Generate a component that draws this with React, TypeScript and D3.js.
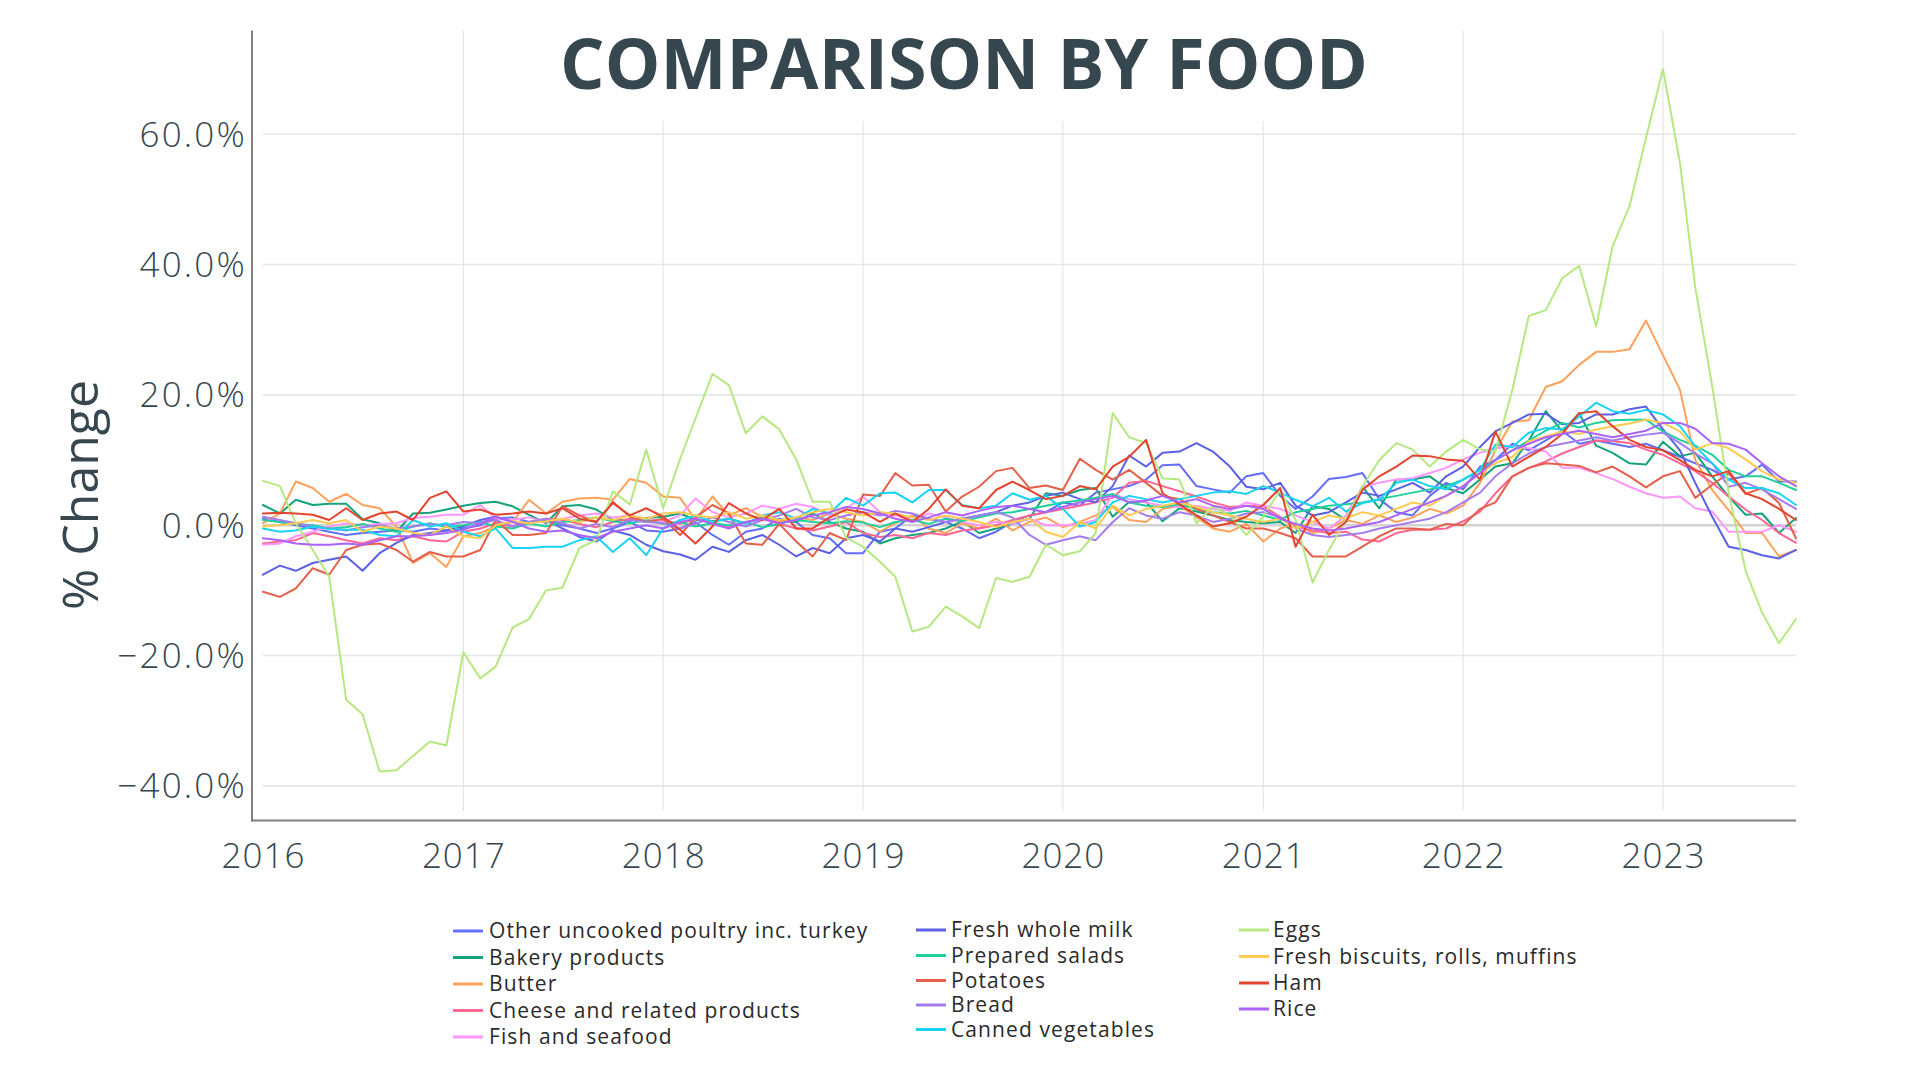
import React from 'react';
import * as d3 from 'd3';

// ---------- DATA ----------
const MONTHS: Date[] = d3.utcMonth.range(new Date(Date.UTC(2016, 0, 1)), new Date(Date.UTC(2023, 9, 1)));

const otherPoultry = [
  1.0, 0.5, 0.0, -0.5, -1.0, -1.5, -1.2, -1.0, -0.8, -1.0, -0.5, -0.8,
  -0.5, 0.0, 1.0, 1.2, 0.5, 0.8, 0.0, -0.5, -1.2, -0.5, 0.5, -0.8,
  -1.0, -0.5, 0.5, -1.5, -3.0, -1.0, -0.5, 1.0, 0.5, -1.5, -2.0, -4.3,
  -4.3, -1.0, -0.5, 1.5, 1.0, 0.5, -0.5, -2.0, -1.0, 0.5, 1.5, 2.0,
  3.5, 3.0, 5.0, 5.5, 6.0, 7.0, 9.2, 9.3, 6.0, 5.5, 5.0, 7.5,
  8.0, 4.5, 2.5, 4.4, 7.1, 7.4, 8.0, 4.0, 2.0, 1.5, 4.5, 6.5,
  5.5, 9.0, 10.0, 12.5, 11.5, 13.0, 14.5, 12.5, 13.0, 12.5, 12.0, 12.5,
  11.5, 10.5, 9.5, 8.5, 7.0, 7.5, 9.3, 6.7, 6.7,
];
const bakery = [
  3.1, 1.8, 3.9, 3.1, 3.3, 3.3, 0.9, 0.3, -1.0, 1.8, 1.9, 2.4,
  3.0, 3.4, 3.6, 2.9, 1.6, 0.3, 2.9, 3.1, 2.4, 0.8, 0.8, 1.1,
  1.3, 1.8, 0.8, 0.6, 1.0, 0.3, 1.2, 0.8, 0.5, 1.8, 0.5, -0.5,
  -1.0, -2.8, -2.0, -1.5, -1.2, -0.5, 0.6, -1.2, -0.5, 0.2, 1.0, 4.9,
  4.5, 5.4, 5.7, 1.3, 3.6, 3.6, 0.6, 2.6, 2.1, 1.5, 0.8, 0.5,
  0.3, 0.5, -1.2, 2.9, 2.5, 0.8, 5.9, 2.6, 7.0, 7.0, 7.5, 5.7,
  4.9, 7.0, 9.0, 9.5, 13.0, 17.5, 14.4, 17.2, 12.2, 11.1, 9.5, 9.3,
  12.8, 10.6, 11.1, 7.5, 4.4, 1.6, 1.8, -1.2, 1.1,
];
const butter = [
  0.3, 1.8, 6.7, 5.7, 3.6, 4.8, 3.1, 2.6, -0.2, -5.8, -4.3, -6.4,
  -1.7, -1.2, -0.2, 0.5, 3.9, 1.8, 3.6, 4.1, 4.2, 3.9, 7.1, 6.5,
  4.4, 4.2, 0.8, 4.4, 1.5, 2.6, 1.3, 0.5, 1.2, 0.8, 1.8, 1.0,
  0.5, -1.0, 0.3, 1.5, -0.5, -1.2, 0.3, -0.5, 1.0, -0.8, 0.5, 1.2,
  -0.3, 0.5, 1.5, 2.8, 0.8, 0.5, 2.5, 3.0, 1.2, -0.5, -1.0, 0.2,
  -2.5, -0.5, 0.3, -1.2, -0.5, 0.8, 0.2, 1.5, 0.5, 1.2, 2.5, 1.8,
  3.0, 6.5, 11.5, 15.9, 16.1, 21.2, 22.1, 24.6, 26.6, 26.6, 27.0, 31.4,
  26.1, 20.8, 10.0, 5.4, 2.3, -1.2, -1.2, -4.8, -3.8,
];
const cheese = [
  -2.8, -2.5, -2.3, -1.2, -1.7, -2.3, -2.8, -2.0, -2.3, -1.7, -2.3, -2.5,
  -1.0, -0.5, 0.3, -0.2, 0.5, 1.0, 0.8, 0.2, -0.3, 0.5, 1.0, 0.5,
  0.8, 0.2, 1.0, 0.5, -0.3, 0.5, 1.0, 0.2, -0.5, -0.8, -0.2, 0.5,
  -1.2, -1.8, -1.5, -2.0, -1.2, -1.5, -0.8, -0.5, 0.0, 0.8, 1.5, 2.0,
  2.5, 3.0, 3.5, 4.2, 6.5, 6.8, 6.0, 5.2, 4.4, 3.5, 2.8, 3.0,
  2.9, 1.3, -0.2, -0.8, -1.2, -1.0, -2.2, -2.5, -1.2, -0.7, -0.7, -0.5,
  0.6, 2.1, 4.9, 7.5, 8.8, 9.8, 11.0, 12.0, 13.0, 12.9, 12.6, 11.6,
  10.8, 9.5, 8.3, 6.5, 4.4, 2.4, 0.8, -1.2, -2.7,
];
const fish = [
  -3.0, -2.8, -1.7, -1.0, -0.2, 0.3, 0.0, 0.2, 0.3, 1.1, 1.3, 1.6,
  1.6, 3.1, 1.0, 0.8, 1.2, 0.5, 1.0, 1.5, 1.8, 1.2, 1.5, 1.0,
  0.5, 1.5, 4.1, 2.0, 1.2, 1.8, 3.0, 2.5, 3.3, 2.8, 1.5, 2.5,
  4.4, 2.0, 1.5, 0.8, 1.8, 1.2, 0.5, 0.0, 0.5, 0.2, 1.0, 0.0,
  0.0, 0.2, 0.8, 4.7, 4.0, 3.5, 3.0, 2.8, 3.0, 2.5, 2.2, 3.5,
  3.0, 2.5, 1.5, 0.5, -0.5, 1.5, 5.9, 6.5, 7.0, 7.2, 8.0, 8.8,
  10.1, 11.1, 11.8, 12.1, 11.8, 11.3, 8.8, 8.8, 8.0, 7.1, 5.9, 4.9,
  4.2, 4.4, 2.6, 2.1, -1.0, -1.0, -1.0, 0.0, -1.0,
];
const wholeMilk = [
  -7.6, -6.2, -7.0, -5.8, -5.3, -4.8, -7.0, -4.3, -2.7, -1.5, -1.2, -0.8,
  -0.2, 0.8, 1.3, 0.5, 0.3, 0.8, -0.5, -1.8, -2.5, -0.8, -1.5, -3.0,
  -4.0, -4.5, -5.3, -3.3, -4.1, -2.3, -1.5, -3.0, -4.8, -3.5, -4.3, -2.0,
  -1.5, -2.5, -0.5, -1.0, -0.3, 0.5, 1.0, 1.5, 2.0, 3.0, 3.5, 4.5,
  5.0, 4.0, 3.5, 6.0, 10.7, 9.0, 11.1, 11.3, 12.6, 11.3, 9.0, 5.9,
  5.5, 6.5, 3.0, 1.5, 2.0, 3.5, 5.0, 4.5, 5.5, 6.5, 5.0, 7.5,
  9.0, 12.0, 14.4, 15.7, 17.0, 17.1, 15.5, 15.7, 17.0, 17.0, 17.8, 18.2,
  14.7, 11.5, 6.5, 1.3, -3.3, -3.8, -4.6, -5.1, -3.8,
];
const salads = [
  0.8, 0.5, 0.2, 0.0, -0.5, -0.3, 0.2, -0.5, -1.0, -0.2, 0.3, -0.3,
  0.0, 0.5, -0.2, -0.5, 0.3, -0.2, 0.5, 0.8, 1.2, 0.6, 0.3, 0.8,
  0.2, 0.5, -0.2, 0.3, 0.0, 0.5, -0.3, 0.2, 0.8, 0.5, 0.3, 0.6,
  0.4, -0.3, 0.5, 0.8, 0.2, 1.0, 0.6, 1.2, 1.8, 2.0, 2.5, 3.0,
  3.5, 3.8, 4.2, 4.8, 3.5, 3.0, 2.8, 3.2, 2.5, 2.0, 1.8, 2.2,
  1.5, 0.8, 2.0, 2.5, 3.0, 3.2, 3.5, 4.0, 4.5, 5.0, 5.5, 6.0,
  7.0, 8.5, 10.0, 11.5, 13.0, 14.5, 15.7, 15.0, 15.7, 16.1, 16.2, 16.2,
  14.4, 13.1, 12.2, 10.8, 8.5, 7.5, 7.5, 6.5, 5.4,
];
const potatoes = [
  -10.2, -11.0, -9.7, -6.6, -7.6, -3.8, -3.0, -2.8, -3.8, -5.6, -4.1, -4.8,
  -4.8, -3.8, 0.8, -1.5, -1.5, -1.2, 2.9, 1.5, 0.5, 3.6, 1.3, 0.5,
  1.0, -1.5, 1.2, 3.1, 1.8, -2.8, -3.0, 0.2, -2.5, -4.8, -1.2, -2.3,
  4.7, 4.5, 8.0, 6.1, 6.2, 2.1, 4.4, 5.9, 8.3, 8.8, 5.7, 6.1,
  5.4, 10.2, 8.5, 7.0, 8.5, 6.5, 4.5, 4.0, 2.5, 1.5, 0.5, -0.5,
  -0.5, -1.2, -2.0, -4.8, -4.8, -4.8, -3.3, -1.7, -0.5, -0.5, -0.7, 0.2,
  0.0, 2.5, 3.5, 7.5, 8.8, 9.5, 9.3, 9.1, 8.1, 9.0, 7.5, 5.8,
  7.5, 8.3, 4.2, 6.2, 8.0, 4.8, 5.7, 3.4, -2.0,
];
const bread = [
  1.3, 0.8, 0.3, -0.2, -0.5, -0.8, -0.3, 0.0, -0.5, -0.2, 0.2, 0.0,
  0.5, 0.3, 0.8, -0.2, 0.5, 1.0, 0.3, -0.5, 0.2, -0.3, 0.8, 0.5,
  0.3, -0.5, 0.2, 1.2, 0.5, -0.2, 0.8, 1.5, 2.5, 1.2, 0.8, 1.5,
  2.0, 1.5, 2.2, 1.8, 1.0, 0.5, 1.0, 1.5, 2.0, 1.2, -1.5, -3.0,
  -2.3, -1.7, -2.3, 0.5, 2.6, 1.5, 1.0, 2.0, 1.5, 0.5, 1.0, 1.8,
  2.0, 1.2, -0.5, -1.5, -1.8, -1.5, -1.2, -0.5, 0.0, 0.5, 1.0, 2.0,
  3.5, 5.0, 7.5, 9.5, 11.0, 12.0, 12.5, 13.0, 13.5, 13.0, 13.5, 13.9,
  14.2, 12.6, 11.0, 9.5, 5.9, 6.5, 5.5, 4.0, 2.5,
];
const cannedVeg = [
  -0.5, -1.0, -0.8, -0.2, -0.6, -0.7, -0.7, -1.5, -1.7, 0.8, -0.2, 0.3,
  -1.0, -1.7, -0.5, -3.5, -3.5, -3.3, -3.3, -2.3, -1.7, -4.1, -2.0, -4.6,
  -0.5, 0.8, 1.5, 0.5, 1.0, 0.2, 1.5, 2.0, 1.0, 2.5, 1.8, 4.2,
  3.0, 4.9, 5.0, 3.5, 5.4, 5.4, 3.1, 2.6, 3.0, 4.9, 3.9, 4.5,
  2.5, -0.2, 0.5, 3.5, 4.5, 4.0, 3.5, 4.0, 4.5, 5.0, 5.2, 4.8,
  6.0, 5.0, 3.9, 2.9, 4.2, 2.1, 3.4, 3.9, 6.5, 7.0, 6.0, 5.5,
  7.0, 8.5, 12.4, 12.0, 14.2, 14.9, 14.7, 16.7, 18.8, 17.5, 17.1, 17.7,
  17.0, 15.2, 12.1, 9.5, 7.0, 5.7, 5.7, 4.9, 3.1,
];
const eggs = [
  6.8, 6.0, 0.3, -3.8, -7.9, -26.8, -29.0, -37.8, -37.6, -35.4, -33.2, -33.8,
  -19.5, -23.5, -21.7, -15.7, -14.4, -10.0, -9.6, -3.5, -2.3, 5.2, 3.2, 11.6,
  2.6, 10.2, 16.4, 23.2, 21.5, 14.1, 16.7, 14.7, 10.1, 3.6, 3.6, -1.9,
  -3.3, -5.6, -7.9, -16.3, -15.6, -12.5, -14.0, -15.8, -8.1, -8.7, -7.9, -3.0,
  -4.6, -4.0, -1.2, 17.2, 13.5, 12.6, 7.2, 7.0, 0.3, 2.9, 1.5, -1.5,
  1.3, 5.4, 0.8, -8.8, -3.8, 0.8, 5.9, 10.0, 12.6, 11.6, 9.0, 11.3,
  13.1, 11.6, 11.3, 20.8, 32.1, 33.0, 37.9, 39.8, 30.5, 42.8, 49.0, 59.4,
  70.0, 55.6, 36.5, 21.3, 5.0, -7.0, -13.4, -18.1, -14.4,
];
const biscuits = [
  -0.2, 0.0, 0.3, 0.8, 0.3, 0.8, -1.0, -0.2, -0.5, -1.2, -1.5, -0.2,
  -1.7, -2.0, 0.0, 0.6, 0.3, 0.6, 1.0, 0.5, 1.2, 0.8, 1.5, 1.0,
  1.8, 2.0, 1.5, 1.2, 2.0, 1.0, 1.5, 0.8, 1.2, 2.0, 2.5, 2.0,
  1.5, 2.0, 1.8, 1.2, 0.8, 1.5, 1.0, 0.5, -0.3, 0.5, 1.0, -1.0,
  -1.8, 0.5, -0.5, 3.0, 1.5, 2.5, 3.0, 3.5, 2.8, 2.0, 1.5, 1.0,
  0.5, 1.0, -0.5, 0.5, 1.5, 1.0, 2.0, 1.5, 2.5, 3.5, 3.0, 4.5,
  6.0, 8.0, 9.5, 10.5, 12.9, 13.6, 14.4, 14.0, 14.7, 15.2, 15.6, 16.2,
  15.7, 14.4, 11.6, 12.6, 11.8, 10.1, 8.3, 7.0, 6.5,
];
const ham = [
  1.8, 1.9, 1.8, 1.6, 0.8, 2.6, 0.8, 1.8, 2.1, 0.8, 4.2, 5.2,
  2.1, 2.4, 1.6, 1.8, 2.1, 1.8, 2.6, 1.0, 0.5, 3.4, 1.5, 2.6,
  1.3, -0.7, -2.8, -0.2, 3.4, 1.8, 0.8, 2.5, -0.5, -0.5, 1.2, 2.4,
  2.0, 0.5, 1.8, 0.5, 2.5, 5.5, 3.0, 2.6, 5.4, 6.7, 5.4, 4.0,
  4.5, 6.0, 5.5, 9.0, 10.5, 13.1, 4.9, 3.2, 1.5, -0.2, 0.3, 1.3,
  3.1, 5.7, -3.3, 1.6, -1.5, 0.5, 5.4, 7.5, 9.0, 10.7, 10.6, 10.1,
  9.9, 7.0, 14.4, 9.0, 10.5, 12.0, 14.0, 17.2, 17.5, 15.2, 13.1, 12.0,
  11.5, 10.0, 8.5, 7.5, 8.3, 4.9, 4.0, 2.5, 0.8,
];
const rice = [
  -2.0, -2.3, -2.8, -3.0, -3.0, -2.8, -3.0, -2.3, -1.7, -1.7, -1.5, -1.2,
  -0.7, 0.3, 1.3, 0.5, -0.5, -1.0, -0.8, -1.5, -2.0, -1.0, -0.5, 0.0,
  -0.5, 0.5, 1.0, 0.2, -0.5, 0.5, 1.0, 0.3, 0.8, 1.5, 2.0, 2.8,
  2.5, 1.8, 1.0, 0.5, 1.2, 2.0, 1.5, 2.2, 2.8, 3.0, 2.5, 2.0,
  2.8, 3.5, 4.0, 4.5, 3.5, 3.8, 4.5, 3.5, 4.0, 3.0, 2.5, 3.0,
  2.5, 1.0, 0.2, -0.5, -0.8, -0.5, 0.0, 0.5, 1.5, 2.5, 3.5, 4.5,
  6.0, 8.0, 10.0, 11.5, 12.5, 13.5, 14.0, 14.5, 14.0, 13.5, 14.0, 14.5,
  15.7, 15.7, 14.8, 12.6, 12.5, 11.6, 9.5, 7.5, 6.0,
];

const SERIES_NAMES = [
  'Other uncooked poultry inc. turkey', 'Bakery products', 'Butter', 'Cheese and related products', 'Fish and seafood',
  'Fresh whole milk', 'Prepared salads', 'Potatoes', 'Bread', 'Canned vegetables',
  'Eggs', 'Fresh biscuits, rolls, muffins', 'Ham', 'Rice',
];
const SERIES_VALUES = [
  otherPoultry, bakery, butter, cheese, fish,
  wholeMilk, salads, potatoes, bread, cannedVeg,
  eggs, biscuits, ham, rice,
];
const SERIES_COLORS = [
  '#636efa', '#14a37c', '#ffa15a', '#ff6692', '#ff97ff',
  '#5c60e6', '#1fd09c', '#e5604b', '#a57cee', '#19d3f3',
  '#b6e880', '#fecb52', '#e4442e', '#ab63fa',
];

const Y_TICKS = [-40, -20, 0, 20, 40, 60];
const X_TICK_YEARS = [2016, 2017, 2018, 2019, 2020, 2021, 2022, 2023];

// ---------- LAYOUT ----------
const W = 1920;
const H = 1080;
const PL = 252, PR = 1796, PT = 30.6, PB = 820.4;
const TEXT = '#37474f';
const LEGEND_COLS = [
  { sx: 453, tx: 489, ys: [931, 957.5, 984, 1010.5, 1037] },
  { sx: 916, tx: 951, ys: [930, 955.5, 980.5, 1005, 1029.5] },
  { sx: 1239, tx: 1273, ys: [930, 956.5, 983, 1009] },
];

export default function App() {
  const x = d3.scaleUtc()
    .domain([new Date(Date.UTC(2015, 11, 12)), new Date(Date.UTC(2023, 8, 1))])
    .range([PL, PR]);
  const y = d3.scaleLinear().domain([-45.3, 75.9]).range([PB, PT]);
  const line = d3.line<number>()
    .x((_, i) => x(MONTHS[i]))
    .y((v) => y(v));

  const fmt = (v: number) => (v < 0 ? '\u2212' : '') + Math.abs(v).toFixed(1) + '%';

  const legendItems: { name: string; color: string; sx: number; tx: number; yy: number }[] = [];
  let k = 0;
  LEGEND_COLS.forEach((c) => {
    c.ys.forEach((yy) => {
      if (k < SERIES_NAMES.length) {
        legendItems.push({ name: SERIES_NAMES[k], color: SERIES_COLORS[k], sx: c.sx, tx: c.tx, yy });
        k++;
      }
    });
  });

  return (
    <svg width={W} height={H} style={{ position: 'absolute', left: 0, top: 0, background: '#fff' }}
      fontFamily="'Open Sans', 'Noto Sans', sans-serif">
      <rect x={0} y={0} width={W} height={H} fill="#ffffff" />
      {Y_TICKS.map((t) => (
        <line key={'hg' + t} x1={263} x2={PR} y1={y(t)} y2={y(t)}
          stroke={t === 0 ? '#d2d2d2' : '#e6e6e6'} strokeWidth={t === 0 ? 2.4 : 1.6} />
      ))}
      {X_TICK_YEARS.filter((yr) => yr > 2016).map((yr) => (
        <line key={'vg' + yr} x1={x(new Date(Date.UTC(yr, 0, 1)))} x2={x(new Date(Date.UTC(yr, 0, 1)))}
          y1={PT} y2={811} stroke="#e0e0e0" strokeWidth={1} />
      ))}
      <rect x={545} y={PT - 2} width={835} height={121 - PT + 2} fill="#ffffff" />
      {SERIES_VALUES.map((vals, i) => (
        <path key={'s' + i} d={line(vals) || ''} fill="none" stroke={SERIES_COLORS[i]}
          strokeWidth={2} strokeLinejoin="round" strokeLinecap="round" />
      ))}
      <line x1={PL} x2={PL} y1={PT} y2={PB + 1} stroke="#808080" strokeWidth={2} />
      <line x1={PL - 1} x2={PR} y1={PB} y2={PB} stroke="#808080" strokeWidth={2} />
      {Y_TICKS.map((t) => (
        <text key={'yl' + t} x={247} y={y(t)} dy="0.36em" textAnchor="end" fontSize={35}
          fontWeight={300} letterSpacing={2.2} fill={TEXT}>{fmt(t)}</text>
      ))}
      {X_TICK_YEARS.map((yr) => (
        <text key={'xl' + yr} x={x(new Date(Date.UTC(yr, 0, 1))) + 0.5} y={868} textAnchor="middle" fontSize={35}
          fontWeight={300} letterSpacing={1} fill={TEXT}>{yr}</text>
      ))}
      <text x={964} y={89} textAnchor="middle" fontSize={70} fontWeight={700} fill={TEXT}>COMPARISON BY FOOD</text>
      <text transform="translate(98,495) rotate(-90)" textAnchor="middle" fontSize={50} fill={TEXT}>% Change</text>
      {legendItems.map((it) => (
        <g key={'lg' + it.name}>
          <line x1={it.sx} x2={it.sx + 30} y1={it.yy} y2={it.yy} stroke={it.color} strokeWidth={3} />
          <text x={it.tx} y={it.yy} dy="0.35em" fontSize={21} letterSpacing={1.1} fill="#2a2a2a">{it.name}</text>
        </g>
      ))}
    </svg>
  );
}
